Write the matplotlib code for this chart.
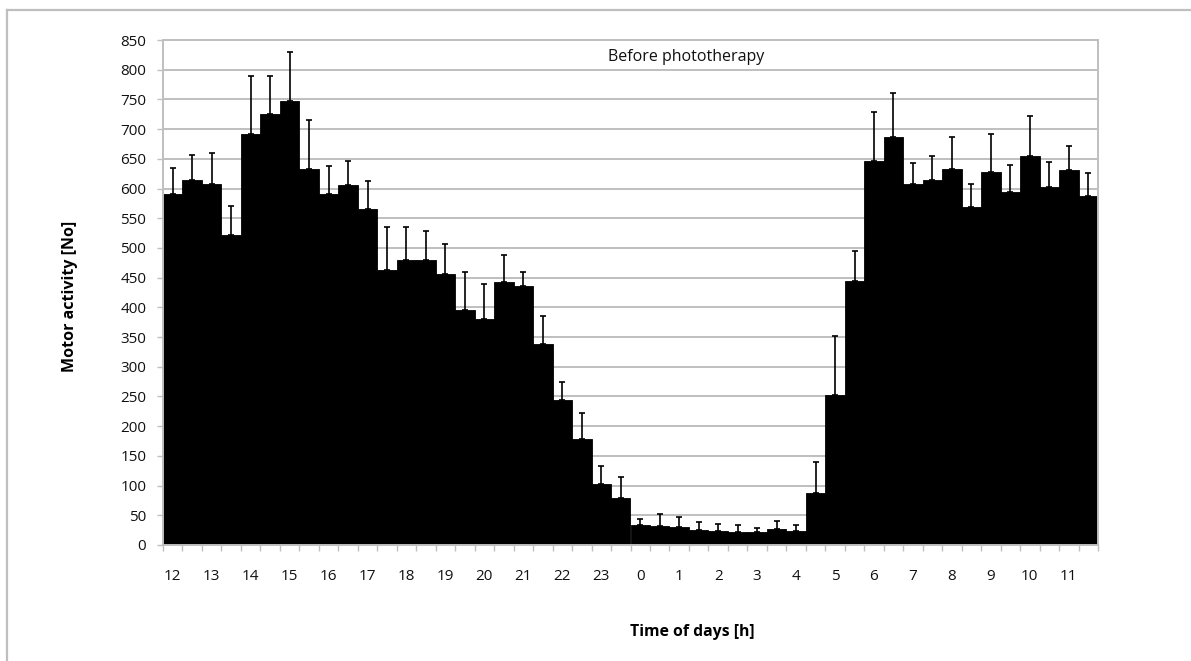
import numpy as np
import matplotlib.pyplot as plt
from matplotlib.lines import Line2D

# half-hour bins starting at 12:00, mean motor activity and upper SD
hour_labels = ["12", "13", "14", "15", "16", "17", "18", "19", "20", "21", "22", "23",
               "0", "1", "2", "3", "4", "5", "6", "7", "8", "9", "10", "11"]
activity = [591, 614, 607, 522, 691, 726, 748, 633, 590, 606, 565, 463,
            480, 480, 456, 395, 381, 442, 436, 338, 244, 178, 102, 79,
            34, 32, 30, 26, 24, 22, 22, 27, 24, 87, 253, 445,
            647, 686, 607, 615, 633, 569, 628, 594, 654, 603, 632, 588]
sd = [44, 42, 52, 49, 98, 63, 82, 83, 48, 40, 48, 72,
      55, 48, 51, 64, 58, 46, 24, 48, 31, 44, 31, 36,
      9, 20, 17, 13, 11, 11, 7, 13, 10, 52, 99, 50,
      82, 75, 36, 39, 54, 39, 64, 46, 68, 42, 40, 38]

grey = "#bfbfbf"
plt.rcParams["font.family"] = ["Open Sans", "DejaVu Sans"]

fig = plt.figure(figsize=(11.91, 6.61), dpi=100)
ax = fig.add_axes([163 / 1191, 1 - 545 / 661, 935 / 1191, 505 / 661])

x = np.arange(len(activity))
ax.bar(x, activity, width=1.0, color="black", edgecolor="black", linewidth=0.6, zorder=2)
ax.errorbar(x, activity, yerr=[np.zeros(len(sd)), sd], fmt="none",
            ecolor="black", elinewidth=1.2, capsize=2.5, capthick=1.2, zorder=3)

ax.set_xlim(-0.5, len(activity) - 0.5)
ax.set_ylim(0, 850)
ax.set_yticks(np.arange(0, 851, 50))
ax.yaxis.grid(True, color=grey, linewidth=1.4, zorder=0)
ax.set_axisbelow(True)

# labels under every second bar, tick marks at bar boundaries
ax.set_xticks(np.arange(0, len(activity), 2))
ax.set_xticklabels(hour_labels)
ax.set_xticks(np.arange(-0.5, len(activity), 1), minor=True)
ax.tick_params(axis="x", which="major", length=0, pad=17, labelsize=11, colors="#111111")
ax.tick_params(axis="x", which="minor", length=4, width=1, color=grey)
ax.tick_params(axis="y", length=4, width=1, color=grey, pad=8, labelsize=11,
               labelcolor="#111111")

for side in ["left", "right", "top", "bottom"]:
    ax.spines[side].set_color(grey)
    ax.spines[side].set_linewidth(1.4)

ax.text(0.559, 0.966, "Before phototherapy", transform=ax.transAxes,
        ha="center", va="center", fontsize=11.5, color="#111111")

fig.text(70 / 1191, 1 - 296 / 661, "Motor activity [No]", rotation=90,
         ha="center", va="center", fontsize=11.5, fontweight="bold")
fig.text(692 / 1191, 1 - 632 / 661, "Time of days [h]",
         ha="center", va="center", fontsize=11.3, fontweight="bold")

# chart area border (left and top edges)
fig.add_artist(Line2D([6.5 / 1191, 6.5 / 1191], [0, 1 - 9.5 / 661],
                      color=grey, linewidth=1.6, transform=fig.transFigure))
fig.add_artist(Line2D([6.5 / 1191, 1], [1 - 9.5 / 661, 1 - 9.5 / 661],
                      color=grey, linewidth=1.6, transform=fig.transFigure))

fig.savefig("out.png", dpi=100)
